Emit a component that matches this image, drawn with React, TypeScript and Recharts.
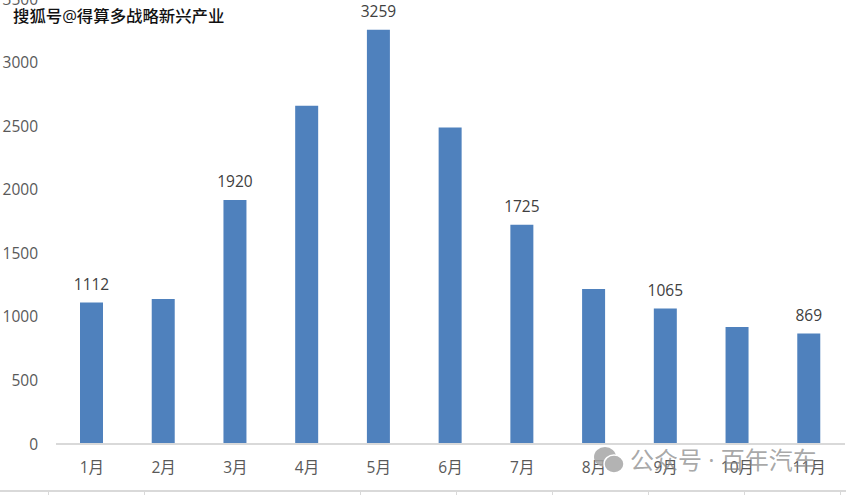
import { BarChart, Bar, XAxis, YAxis, LabelList } from "recharts";

const months = ["1月", "2月", "3月", "4月", "5月", "6月", "7月", "8月", "9月", "10月", "11月"];
const sales = [1112, 1140, 1920, 2660, 3259, 2490, 1725, 1220, 1065, 920, 869];
const shownLabels = [1112, null, 1920, null, 3259, null, 1725, null, 1065, null, 869];
const yTicks = [0, 500, 1000, 1500, 2000, 2500, 3000, 3500];
const tableDividers = [48, 144, 360, 456, 552, 648, 744, 840];

const data = months.map((month, i) => ({
  month,
  sales: sales[i],
  label: shownLabels[i],
}));

const font = '"Open Sans", "Noto Sans CJK SC", sans-serif';

const App = () => {
  return (
    <div style={{ position: "absolute", left: 0, top: 0, width: 846, height: 495, overflow: "hidden", background: "#fff" }}>
      <BarChart
        width={846}
        height={495}
        data={data}
        barSize={23}
        margin={{ top: -1, right: 1, left: 0, bottom: 21 }}
      >
        <XAxis
          dataKey="month"
          interval={0}
          tickLine={false}
          axisLine={{ stroke: "#d9d9d9", strokeWidth: 2 }}
          tickMargin={12}
          tick={{ fill: "#595959", fontSize: 15.5, fontFamily: font }}
        />
        <YAxis
          width={56}
          domain={[0, 3500]}
          ticks={yTicks}
          interval={0}
          axisLine={false}
          tickLine={false}
          tickMargin={12}
          tick={{ fill: "#595959", fontSize: 15.5, fontFamily: font }}
        />
        <Bar dataKey="sales" fill="#4f81bd" isAnimationActive={false}>
          <LabelList
            dataKey="label"
            position="top"
            offset={13}
            fill="#404040"
            fontSize={15.5}
            fontFamily={font}
          />
        </Bar>
      </BarChart>

      <div style={{ position: "absolute", left: 13, top: 5, fontFamily: font, fontSize: 16.4, fontWeight: 500, lineHeight: "22px", color: "#111", whiteSpace: "nowrap", textShadow: "1px 1px 0 #fff, -1px 0 0 #fff" }}>
        搜狐号@得算多战略新兴产业
      </div>

      <svg width={32} height={28} style={{ position: "absolute", left: 593, top: 446, opacity: 0.85 }}>
        <ellipse cx={12} cy={11} rx={11} ry={10} fill="#a6a6a6" />
        <ellipse cx={21} cy={18} rx={10} ry={9} fill="#a6a6a6" stroke="#fff" strokeWidth={1.5} />
      </svg>
      <div style={{ position: "absolute", left: 630, top: 445, fontFamily: font, fontSize: 24, lineHeight: "30px", color: "rgba(130,130,130,0.7)", whiteSpace: "nowrap" }}>
        公众号 · 百年汽车
      </div>

      <div style={{ position: "absolute", left: 0, top: 490, width: 846, height: 2, background: "#d9d9d9" }} />
      {tableDividers.map((x) => (
        <div key={x} style={{ position: "absolute", left: x, top: 490, width: 1, height: 5, background: "#d9d9d9" }} />
      ))}
    </div>
  );
};

export default App;
